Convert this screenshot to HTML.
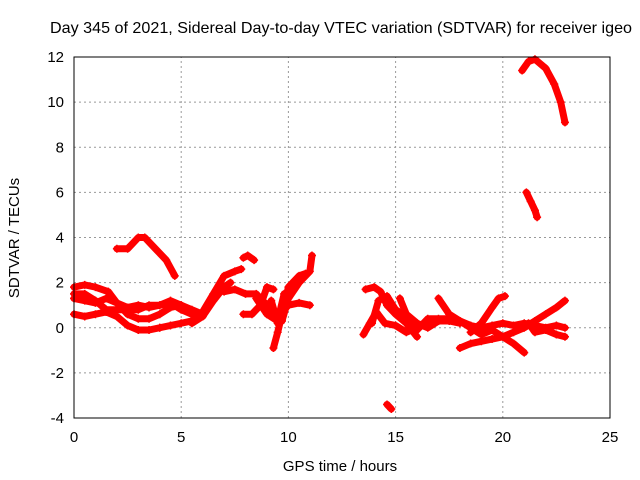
<!DOCTYPE html>
<html><head><meta charset="utf-8"><style>
body{margin:0;background:#fff}
svg{display:block;font-family:"Liberation Sans",sans-serif}
</style></head><body>
<svg id="chart" width="640" height="480">
<text x="341" y="33" font-size="16" textLength="582" lengthAdjust="spacingAndGlyphs" text-anchor="middle">Day 345 of 2021, Sidereal Day-to-day VTEC variation (SDTVAR) for receiver igeo</text>
<text x="340" y="471" font-size="15" text-anchor="middle">GPS time / hours</text>
<text x="19" y="238" font-size="15" text-anchor="middle" transform="rotate(-90 19 238)">SDTVAR / TECUs</text>
<g id="grid"></g><g id="marks"></g>
<rect x="74" y="57" width="536" height="361" fill="none" stroke="#000" stroke-width="1"/>
</svg>
<script>
const xTicks=[0,5,10,15,20,25];
const yTicks=[-4,-2,0,2,4,6,8,10,12];
const trackArc=[[2,3.5],[2.5,3.5],[3,4.0],[3.3,4.0],[3.8,3.5],[4.3,3.0],[4.7,2.3]];
const trackA=[[0,1.8],[0.5,1.9],[1,1.8],[1.6,1.6],[2,1.1],[2.5,0.6],[3,0.4],[3.5,0.4],[4,0.6],[4.5,0.9],[5,1.0]];
const trackB=[[0,1.3],[0.5,1.2],[1,1.1],[1.5,1.3],[2,1.1],[2.5,0.9],[3,1.0],[3.5,0.9],[4,1.0],[4.5,1.1],[5,0.8],[5.5,0.6],[6,0.5]];
const trackC=[[0,0.6],[0.5,0.5],[1,0.6],[1.5,0.7],[2,0.5],[2.5,0.1],[3,-0.1],[3.5,-0.1],[4,0]];
const trackD=[[0,1.5],[0.5,1.5],[1,1.2],[1.5,0.8],[2,0.8],[2.5,0.8],[3,0.8],[3.5,1.0],[4,1.0],[4.5,1.2],[5,1.0],[5.5,0.8],[6,0.6]];
const trackE=[[4,0],[4.5,0.1],[5,0.2],[5.5,0.3],[6,0.7],[6.5,1.5],[7,2.3],[7.5,2.5],[7.8,2.6]];
const trackF=[[5.5,0.2],[6,0.5],[6.5,1.2],[7,1.8],[7.3,2.0]];
const trackG=[[7,1.6],[7.5,1.7],[8,1.5],[8.5,1.5],[9,1.0],[9.5,0.5],[10,1.0],[10.5,1.1],[11,1.0]];
const trackH=[[7.9,3.1],[8.1,3.2],[8.4,3.0]];
const trackI=[[7.9,0.6],[8.3,0.6],[8.7,1.0],[9,1.8],[9.3,1.7]];
const trackJ=[[9.2,1.2],[9.5,0.2],[9.7,0.3],[10,1.3],[10.5,2.0],[11,2.5],[11.1,3.2]];
const trackK=[[9.3,-0.9],[9.5,-0.2],[9.8,1.0],[10,1.8],[10.5,2.3],[10.8,2.4]];
const trackL=[[8.5,1.3],[9,0.6],[9.5,0.3],[9.8,1.5]];
const trackM=[[20.9,11.4],[21.2,11.8],[21.5,11.9],[22,11.5],[22.4,10.8],[22.7,10.0],[22.9,9.1]];
const trackN=[[21.1,6.0],[21.3,5.6],[21.5,5.2],[21.6,4.9]];
const trackO=[[14.6,-3.4],[14.8,-3.6]];
const trackP=[[13.6,1.7],[14,1.8],[14.3,1.6],[14.6,1.0],[15,0.6],[15.5,0.2],[16,-0.4]];
const trackQ=[[13.5,-0.3],[13.8,0.2],[14.1,0.7],[14.5,0.2],[15,0.1],[15.5,-0.2],[16,0],[16.5,0.2],[17,0.3],[17.5,0.3],[18,0.2]];
const trackR=[[13.9,0.2],[14.2,1.2],[14.6,1.4],[15,0.8],[15.5,0.5],[16,-0.1],[16.5,0.4],[17,0.4],[17.5,0.4],[18,0.3],[18.5,0.1],[19,0],[19.5,0.1],[20,0.2],[20.5,0.1],[21,0.2],[21.5,0.1],[22,0],[22.5,0.1],[22.9,0]];
const trackS=[[15.2,1.3],[15.5,0.6],[16,0.2],[16.5,0],[17,0.3]];
const trackT=[[17,1.3],[17.5,0.6],[18,0.3],[18.5,0],[19,-0.3],[19.5,-0.1],[20,-0.4],[20.5,-0.7],[21,-1.1]];
const trackU=[[18,-0.9],[18.5,-0.7],[19,-0.6],[19.5,-0.5],[20,-0.4],[20.5,-0.2],[21,0],[21.5,0.3],[22,0.6],[22.5,0.9],[22.9,1.2]];
const trackV=[[18.5,-0.2],[19,0.2],[19.5,0.9],[19.8,1.3],[20.1,1.4]];
const trackW=[[21.2,0.2],[21.5,-0.2],[22,-0.1],[22.5,-0.3],[22.9,-0.4]];
const tracks=[trackArc,trackA,trackB,trackC,trackD,trackE,trackF,trackG,trackH,trackI,trackJ,trackK,trackL,trackM,trackN,trackO,trackP,trackQ,trackR,trackS,trackT,trackU,trackV,trackW];
const NS="http://www.w3.org/2000/svg";
const X0=74,X1=610,Y0=418,Y1=57;
function xs(v){return X0+(v-0)/(25-0)*(X1-X0);}
function ys(v){return Y0-(v+4)/(12+4)*(Y0-Y1);}
const grid=document.getElementById('grid'),svg=document.getElementById('chart'),marks=document.getElementById('marks');
function mk(tag,attrs,parent){const e=document.createElementNS(NS,tag);for(const k in attrs)e.setAttribute(k,attrs[k]);parent.appendChild(e);return e;}
xTicks.forEach(t=>{const x=xs(t);
 if(t>0&&t<25){const g=mk('line',{x1:x,x2:x,y1:Y0,y2:Y1,stroke:'#999','stroke-dasharray':'2,3'},grid);
 
 }
 const l=mk('text',{x:x,y:Y0+24,'font-size':15,'text-anchor':'middle'},svg);l.textContent=t;
 
 });
yTicks.forEach(t=>{const y=ys(t);
 if(t>-4&&t<12){const g=mk('line',{x1:X0,x2:X1,y1:y,y2:y,stroke:'#999','stroke-dasharray':'2,3'},grid);
 
 }
 const l=mk('text',{x:X0-10,y:y+5,'font-size':15,'text-anchor':'end'},svg);l.textContent=t;
 
 });
tracks.forEach((tr,i)=>{
 const p=mk('polyline',{points:tr.map(d=>xs(d[0])+','+ys(d[1])).join(' '),fill:'none',stroke:'#f00','stroke-width':7,'stroke-linejoin':'round','stroke-linecap':'round'},marks);
 
 
 tr.forEach(d=>{const x=xs(d[0]),y=ys(d[1]);
  const m=mk('path',{d:`M${x-4},${y}H${x+4}M${x},${y-4}V${y+4}`,stroke:'#f00','stroke-width':1.5},marks);
  
  });
});
</script>
</body></html>
